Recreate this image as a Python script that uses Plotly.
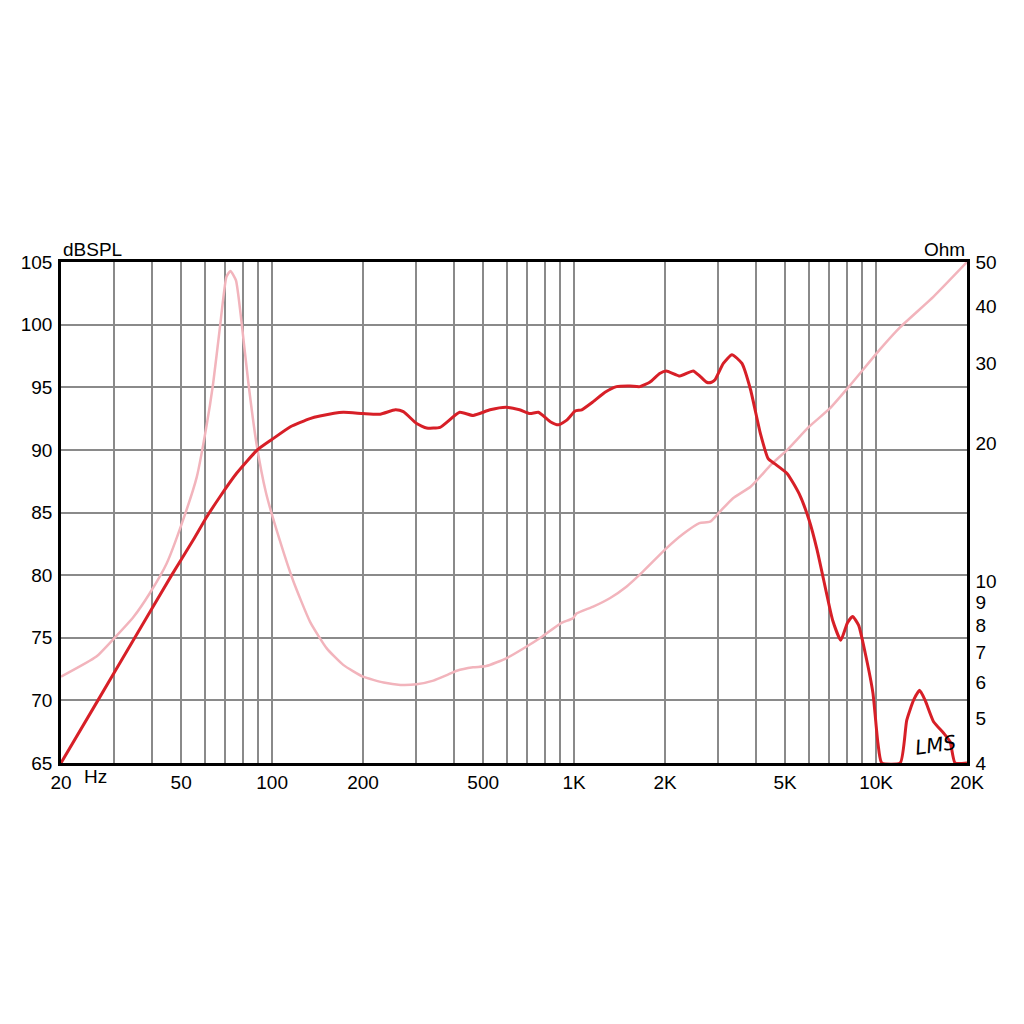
import plotly.graph_objects as go

# ---- data ----
spl_freq = [20, 26.5, 35.1, 46.5, 54.8, 60.8, 67.2, 76.3, 89.4, 100, 115, 133.5, 144, 172, 200, 228, 256,
            272, 301, 325, 360, 418, 463, 527, 596, 660, 714, 762, 834, 888, 948, 1008, 1060, 1157,
            1266, 1382, 1532, 1650, 1780, 1920, 2020, 2240, 2478, 2606, 2748, 2852, 2930, 3120, 3332,
            3596, 3840, 4140, 4392, 4610, 5080, 5560, 6000, 6380, 6860, 7180, 7640, 8040, 8360, 8750,
            9200, 9760, 10140, 10440, 12020, 12630, 13300, 13930, 14540, 15500, 16720, 17580, 18260, 20000]
spl_db = [65, 70, 75, 80, 82.8, 84.66, 86.26, 88.13, 90.0, 90.84, 91.85, 92.5, 92.7, 93.0, 92.9, 92.85, 93.2,
          93.05, 92.1, 91.75, 91.8, 93.0, 92.75, 93.2, 93.4, 93.2, 92.9, 93.0, 92.25, 92.0, 92.4, 93.1, 93.2, 93.85,
          94.6, 95.05, 95.1, 95.05, 95.4, 96.1, 96.3, 95.9, 96.3, 95.9, 95.4, 95.4, 95.6, 96.9, 97.6,
          96.9, 94.8, 91.3, 89.3, 88.9, 88.1, 86.5, 84.4, 82.0, 78.5, 76.4, 74.8, 76.2, 76.7, 76.0,
          73.8, 70.6, 66.6, 65, 65, 68.4, 70.0, 70.8, 70.0, 68.3, 67.4, 66.7, 65, 65]

imp_freq = [20, 26.2, 30, 34.8, 39.3, 44.8, 50.3, 56.3, 60.6, 63.8, 67.2, 70.6, 72.8, 75.9, 79.3, 83.5,
            88.8, 95.5, 106, 117.6, 133.6, 151.7, 172, 200, 234, 266, 301, 342, 379, 409, 463, 512,
            596, 690, 785, 903, 992, 1018, 1157, 1313, 1490, 1690, 2020, 2300, 2600, 2820, 3040,
            3360, 3840, 4490, 5120, 6000, 7030, 8220, 10350, 12020, 15500, 20000]
imp_ohm = [6.18, 6.84, 7.5, 8.36, 9.4, 10.95, 13.4, 16.9, 21.8, 27.1, 36.0, 46.4, 47.8, 45.6, 36.7, 27.1,
           20.0, 15.6, 12.3, 10.0, 8.15, 7.13, 6.56, 6.18, 6.0, 5.93, 5.95, 6.06, 6.23, 6.37, 6.48, 6.52,
           6.78, 7.17, 7.57, 8.09, 8.3, 8.5, 8.8, 9.18, 9.73, 10.5, 11.8, 12.7, 13.4, 13.5, 14.2,
           15.2, 16.1, 18.0, 19.5, 21.8, 23.9, 26.9, 32.3, 36.0, 42.0, 50.0]

x_grid = [20, 30, 40, 50, 60, 70, 80, 90, 100, 200, 300, 400, 500, 600, 700, 800, 900,
          1000, 2000, 3000, 4000, 5000, 6000, 7000, 8000, 9000, 10000, 20000]
x_labels = {20: "20", 50: "50", 100: "100", 200: "200", 500: "500", 1000: "1K",
            2000: "2K", 5000: "5K", 10000: "10K", 20000: "20K"}
db_ticks = [65, 70, 75, 80, 85, 90, 95, 100, 105]
ohm_ticks = [4, 5, 6, 7, 8, 9, 10, 20, 30, 40, 50]

FONT = "Liberation Sans, Arial, sans-serif"
FS = 19
RED = "#d71f27"
PINK = "#f2b4bc"
GRID = "#8a8a8a"

fig = go.Figure()
# impedance on primary (log, right side) -> drawn below
fig.add_trace(go.Scatter(x=imp_freq, y=imp_ohm, mode="lines", yaxis="y",
                         line=dict(color=PINK, width=2.5, shape="spline", smoothing=0.5),
                         showlegend=False, hoverinfo="skip"))
# SPL on overlay (linear dB, left side) -> drawn above
fig.add_trace(go.Scatter(x=spl_freq, y=spl_db, mode="lines", yaxis="y2",
                         line=dict(color=RED, width=3, shape="spline", smoothing=0.5),
                         showlegend=False, hoverinfo="skip"))

tf = dict(family=FONT, size=FS, color="black")
fig.update_layout(
    width=1024, height=1024,
    margin=dict(l=61, r=57, t=262, b=261),
    paper_bgcolor="white", plot_bgcolor="white",
    font=tf,
    xaxis=dict(type="log", range=[1.30103, 4.30103],
               tickmode="array", tickvals=x_grid,
               ticktext=[x_labels.get(v, "") for v in x_grid],
               showgrid=True, gridcolor=GRID, gridwidth=1.5,
               showline=True, linecolor="black", linewidth=2.5, mirror=True,
               ticks="", ticklabelstandoff=0, zeroline=False, tickfont=tf),
    yaxis=dict(type="log", range=[0.60206, 1.69897], side="right",
               tickmode="array", tickvals=ohm_ticks, ticktext=[str(v) for v in ohm_ticks],
               showgrid=False, showline=True, linecolor="black", linewidth=2.5,
               ticks="", ticklabelstandoff=2, zeroline=False, tickfont=tf),
    yaxis2=dict(overlaying="y", side="left", range=[65, 105],
                tickmode="array", tickvals=db_ticks,
                showgrid=True, gridcolor=GRID, gridwidth=1.5,
                showline=True, linecolor="black", linewidth=2.5,
                ticks="", ticklabelstandoff=2, zeroline=False, tickfont=tf),
    annotations=[
        dict(text="dBSPL", xref="paper", yref="paper", x=0, y=1, xanchor="left", yanchor="bottom",
             yshift=0, showarrow=False, font=tf),
        dict(text="Ohm", xref="paper", yref="paper", x=1, y=1, xanchor="right", yanchor="bottom",
             yshift=0, showarrow=False, font=tf),
        dict(text="Hz", xref="paper", yref="paper", x=0.0386, y=0, xanchor="center", yanchor="top",
             yshift=-1, showarrow=False, font=tf),
        dict(text="<i>LMS</i>", xref="paper", yref="paper", x=0.965, y=0.036, xanchor="center",
             yanchor="middle", showarrow=False, textangle=-8,
             font=dict(family="DejaVu Sans, sans-serif", size=20, color="black")),
    ],
)

fig.write_html("out.html", config={"displayModeBar": False},
               post_script="document.body.style.margin='0px';")
